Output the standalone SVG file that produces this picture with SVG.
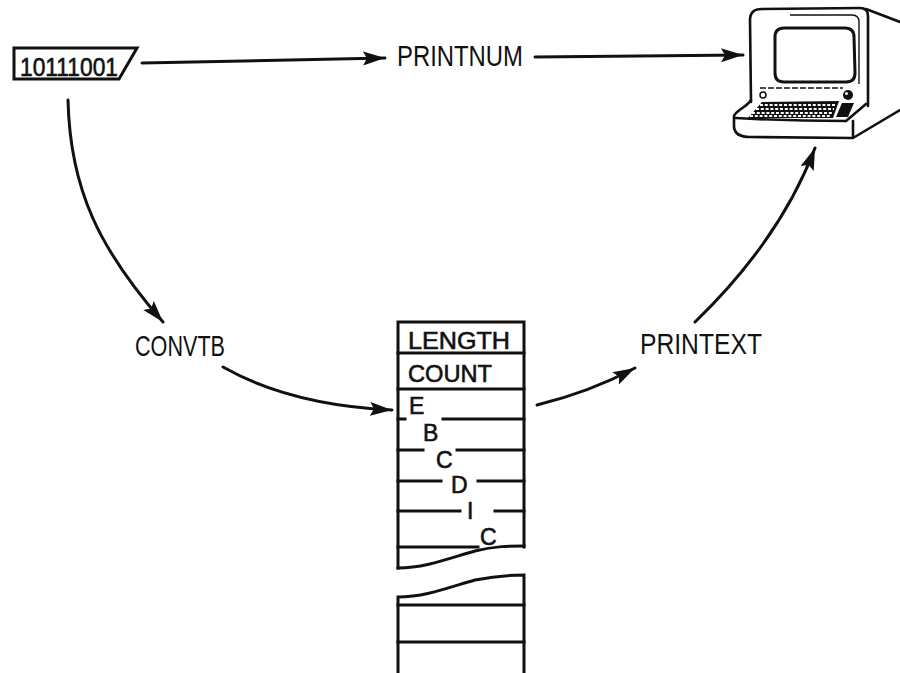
<svg xmlns="http://www.w3.org/2000/svg" width="900" height="673" viewBox="0 0 900 673">
  <style>
    .lbl { font-family: "Liberation Sans", Arial, sans-serif; font-size: 30px; fill: #111; }
    .cell { font-family: "Liberation Sans", Arial, sans-serif; font-size: 24px; fill: #111; stroke: #111; stroke-width: 0.6; }
    .ch { font-family: "Liberation Sans", Arial, sans-serif; font-size: 23px; fill: #111; stroke: #111; stroke-width: 0.6; }
    .conn { fill: none; stroke: #111; stroke-width: 3; stroke-linecap: round; marker-end: url(#ah); }
    .edge { fill: none; stroke: #111; stroke-width: 3; stroke-linecap: square; }
    .thin { fill: none; stroke: #111; stroke-width: 1.4; }
    .line { fill: none; stroke: #111; stroke-width: 2.6; stroke-linecap: round; stroke-linejoin: round; }
  </style>
  <defs>
    <marker id="ah" markerUnits="userSpaceOnUse" markerWidth="26" markerHeight="16" refX="22" refY="7" orient="auto">
      <path d="M0,0 L22,7 L0,14 L4,7 Z" fill="#111"/>
    </marker>
  </defs>

  <rect width="900" height="673" fill="#fff"/>

  <!-- binary value -->
  <g id="source">
    <path d="M14,48 L137,48 L119,79 L14,79 Z" fill="#fff" stroke="#111" stroke-width="3" stroke-linejoin="miter"/>
    <text class="cell" x="20" y="76" textLength="98" lengthAdjust="spacingAndGlyphs" style="font-size:26px">10111001</text>
  </g>

  <g id="printnum">
    <text class="lbl" x="397" y="66" textLength="126" lengthAdjust="spacingAndGlyphs">PRINTNUM</text>
  </g>

  <g id="convtb">
    <text class="lbl" x="135" y="356" textLength="90" lengthAdjust="spacingAndGlyphs">CONVTB</text>
  </g>

  <g id="printext">
    <text class="lbl" x="640" y="354" textLength="122" lengthAdjust="spacingAndGlyphs">PRINTEXT</text>
  </g>

  <!-- text record: length, count, characters, broken-off tail -->
  <g id="record">
    <path class="edge" d="M398,568 L398,322 L524,322 L524,547"/>
    <path class="edge" d="M398,353 L524,353 M398,389 L524,389"/>
    <path class="edge" d="M398,419 L405,419 M443,419 L524,419"/>
    <path class="edge" d="M398,450 L423,450 M457,450 L524,450"/>
    <path class="edge" d="M398,481 L441,481 M478,481 L524,481"/>
    <path class="edge" d="M398,511 L460,511 M495,511 L524,511"/>
    <path class="edge" d="M398,547 L478,547"/>
    <path class="edge" d="M398,568 C425,568 450,558 475,551 C495,546 510,546 524,546"/>
    <path class="edge" d="M398,673 L398,597 C425,597 450,587 475,580 C495,576 510,575 524,575 L524,673"/>
    <path class="edge" d="M398,605 L524,605 M398,642 L524,642"/>
    <text class="cell" x="408" y="349" textLength="102" lengthAdjust="spacingAndGlyphs">LENGTH</text>
    <text class="cell" x="408" y="382" textLength="84" lengthAdjust="spacingAndGlyphs">COUNT</text>
    <text class="ch" x="409" y="414">E</text>
    <text class="ch" x="423" y="441">B</text>
    <text class="ch" x="436" y="468">C</text>
    <text class="ch" x="451" y="493">D</text>
    <text class="ch" x="467" y="519">I</text>
    <text class="ch" x="480" y="545">C</text>
  </g>

  <!-- terminal -->
  <g id="terminal">
    <path class="line" d="M751,102 L750,20 Q750,9 762,9 L860,8 Q868,8 868,16 L868,106"/>
    <path class="line" d="M866,9 L900,22"/>
    <path class="line" d="M751,100 C746,108 736,110 734,116 L734,127 Q735,137 750,137 L853,138 L900,110"/>
    <path class="line" d="M736,118 Q790,121 846,121 L866,104"/>
    <path class="line" d="M853,121 L853,136"/>
    <path class="thin" d="M790,15 L852,15 Q859,15 859,22 L859,84"/>
    <path d="M784,28 L845,28 Q854,28 854,37 L855,73 Q855,82 846,82 L784,82 Q775,82 775,73 L775,37 Q775,28 784,28 Z" fill="#fff" stroke="#111" stroke-width="3"/>
    <path class="thin" d="M760,88 L843,88" stroke-dasharray="6 2"/>
    <circle cx="763" cy="95" r="3" fill="#fff" stroke="#111" stroke-width="1.5"/>
    <circle cx="848" cy="95" r="5" fill="#111"/>
    <circle cx="846.5" cy="93.5" r="1.5" fill="#fff"/>
    <path d="M762,102 L839,101 L833,118 L748,118 Z" fill="#111"/>
    <path d="M842,103 L854,103 L848,117 L836,117 Z" fill="#111"/>
    <g stroke="#fff" stroke-width="1.8" stroke-dasharray="3 1.8">
      <path d="M760,105 L836,105"/>
      <path d="M756,109 L834,109"/>
      <path d="M752,113 L833,113"/>
      <path d="M750,116 L831,116"/>
    </g>
  </g>

  <g id="connectors">
    <path class="conn" d="M142,63 L385,58"/>
    <path class="conn" d="M535,57 L743,55"/>
    <path class="conn" d="M68,100 C70,190 100,250 163,322"/>
    <path class="conn" d="M223,367 Q290,405 392,410"/>
    <path class="conn" d="M537,405 Q590,392 635,368"/>
    <path class="conn" d="M695,322 Q780,240 815,148"/>
  </g>
</svg>
